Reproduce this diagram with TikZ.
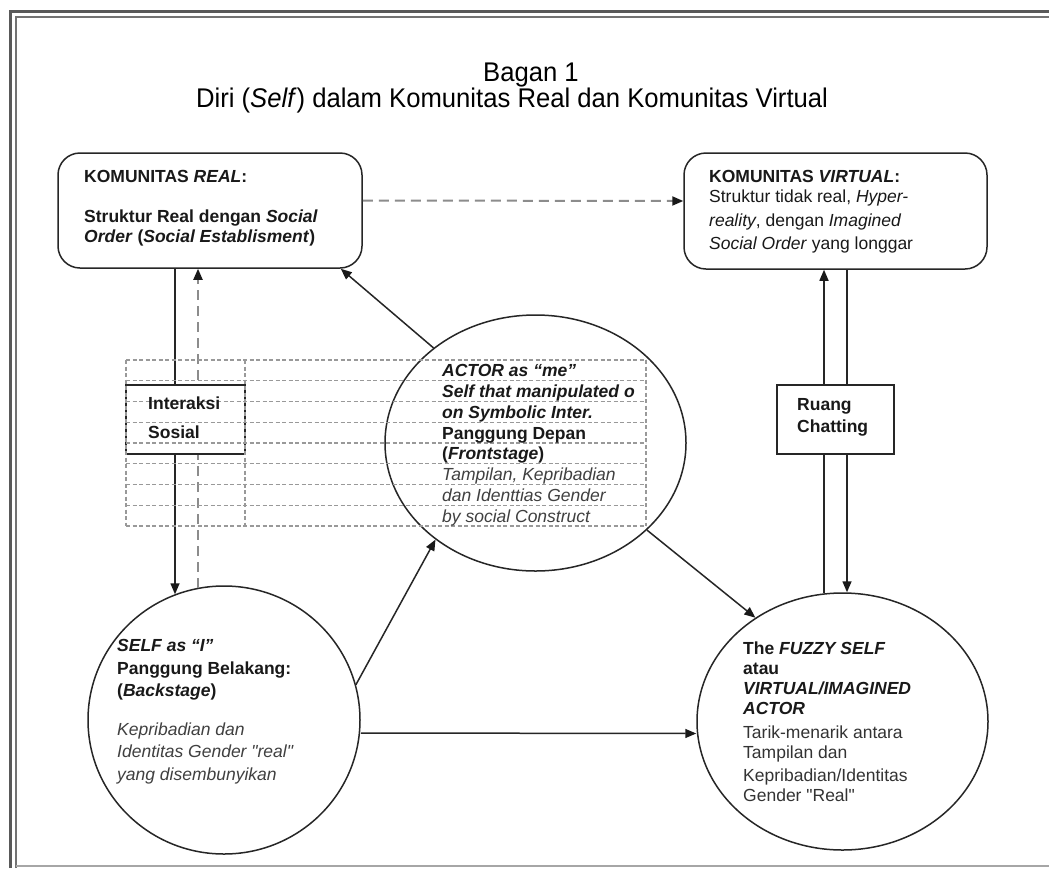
\documentclass[tikz,border=0pt]{standalone}
\usepackage{fontspec}
\setmainfont{Liberation Sans}[Ligatures=TeXOff]
\newfontfamily\titlefont{Liberation Sans}[FakeStretch=0.95,Ligatures=TeXOff]
\usetikzlibrary{arrows.meta,shapes.geometric}
\tikzset{
  ln/.style={line width=1.5pt, draw=black!85},
  tipA/.style={-{Triangle[length=11pt,width=9pt,color=black!90,fill=black!90]}},
  arr/.style={ln, tipA},
  darr/.style={line width=2pt, draw=black!45, dash pattern=on 10pt off 6pt, tipA},
  rbox/.style={ln, rounded corners=22pt, inner sep=0pt},
  sbox/.style={ln, fill=white, inner sep=0pt},
  ell/.style={ellipse, ln, inner sep=0pt},
  tbl/.style={line width=1.1pt, draw=black!40, dash pattern=on 4pt off 2.5pt},
  txt/.style={inner sep=0pt, align=left, anchor=north west, text=black!90},
  body/.style={font=\fontsize{17.5}{#1}\selectfont},
}
\begin{document}
\begin{tikzpicture}[x=1pt,y=-1pt]
\useasboundingbox (0,0) rectangle (1049,868);
\fill[white] (0,0) rectangle (1049,868);
% frame
\draw[line width=3pt, draw=black!65] (10,868) -- (10,11) -- (1049,11);
\draw[line width=2pt, draw=black!55] (16,868) -- (16,16.5) -- (1049,16.5);
\draw[line width=1.5pt, draw=black!35] (16,866) -- (1049,866);
% title
\node[inner sep=0pt, anchor=base, font=\titlefont\fontsize{27}{30}\selectfont] (title1) at (531,81) {Bagan 1};
\node[inner sep=0pt, anchor=base, font=\titlefont\fontsize{27}{30}\selectfont] (title2) at (512,107.5) {Diri (\textit{Self}) dalam Komunitas Real dan Komunitas Virtual};
% main shapes
\node[rbox, minimum width=304pt, minimum height=115pt] (box1) at (210,210.5) {};
\node[rbox, minimum width=303pt, minimum height=116pt] (box2) at (835.5,211) {};
\node[ell, minimum width=272pt, minimum height=268pt] (self) at (224,720) {};
\node[ell, minimum width=301pt, minimum height=256pt] (actor) at (535.5,443) {};
\node[ell, minimum width=291pt, minimum height=257pt] (fuzzy) at (842.5,721.5) {};
% connectors
\draw[darr] ([yshift=10pt]box1.east) -- ([yshift=10pt]box2.west);
\draw[arr] ([xshift=-35pt]box1.south) -- ([xshift=-49pt,yshift=-9pt]self.north);
\draw[darr] ([xshift=-26pt,yshift=-2.5pt]self.north) -- ([xshift=-12pt]box1.south);
\draw[arr] (actor.137) -- ([xshift=-22pt]box1.south east);
\draw[arr] (self.15.5) -- (actor.224);
\draw[arr] ([yshift=-13pt]self.east) -- ([yshift=-12pt]fuzzy.west);
\draw[arr] (actor.-38) -- (fuzzy.130);
\draw[arr] ([xshift=-18.5pt,yshift=-1pt]fuzzy.north) -- ([xshift=-11.5pt]box2.south);
\draw[arr] ([xshift=11.5pt]box2.south) -- ([xshift=4.5pt]fuzzy.north);
% small boxes
\node[sbox, minimum width=119pt, minimum height=69pt] (inter) at (185.5,419.5) {};
\node[sbox, minimum width=117pt, minimum height=69pt] (ruang) at (835.5,419.5) {};
% dashed table
\foreach \i in {0,...,8} {\draw[tbl] (126,360+20.75*\i) -- (646,360+20.75*\i);}
\foreach \xx in {126,245,646} {\draw[tbl] (\xx,360) -- (\xx,526);}
% texts
\node[txt, body=20pt] (t1) at (84,170.5) {\textbf{KOMUNITAS \textit{REAL}:}\\[20pt]\textbf{Struktur Real dengan \textit{Social}}\\\textbf{\textit{Order} (\textit{Social Establisment})}};
\node[txt, body=20pt] (t2) at (709,170.5) {\textbf{KOMUNITAS \textit{VIRTUAL}:}\\Struktur tidak real, \textit{Hyper-}\\[3.5pt]\textit{reality}, dengan \textit{Imagined}\\[3pt]\textit{Social Order} yang longgar};
\node[txt, body=29pt] (t3) at (148,396.5) {\textbf{Interaksi}\\\textbf{Sosial}};
\node[txt, body=22pt] (t4) at (797,398.5) {\textbf{Ruang}\\\textbf{Chatting}};
\node[txt, body=20.75pt] (t5) at (442,364.5) {\textbf{\textit{ACTOR as “me”}}\\\textbf{\textit{Self that manipulated o}}\\\textbf{\textit{on Symbolic Inter.}}\\\textbf{Panggung Depan}\\\textbf{(\textit{Frontstage})}\\\textcolor{black!75}{\textit{Tampilan, Kepribadian}}\\\textcolor{black!75}{\textit{dan Identtias Gender}}\\\textcolor{black!75}{\textit{by social Construct}}};
\node[txt, body=22.5pt] (t6) at (117,639.5) {\textbf{\textit{SELF as “I”}}\\\textbf{Panggung Belakang:}\\\textbf{(\textit{Backstage})}\\[16pt]\textcolor{black!75}{\textit{Kepribadian dan}}\\\textcolor{black!75}{\textit{Identitas Gender "real"}}\\\textcolor{black!75}{\textit{yang disembunyikan}}};
\node[txt, body=20pt] (t7) at (743,641.5) {\textbf{The \textit{FUZZY SELF}}\\\textbf{atau}\\\textbf{\textit{VIRTUAL/IMAGINED}}\\\textbf{\textit{ACTOR}}\\[4pt]\textcolor{black!80}{Tarik-menarik antara}\\\textcolor{black!80}{Tampilan dan}\\[3pt]\textcolor{black!80}{Kepribadian/Identitas}\\\textcolor{black!80}{Gender "Real"}};
\end{tikzpicture}
\end{document}
